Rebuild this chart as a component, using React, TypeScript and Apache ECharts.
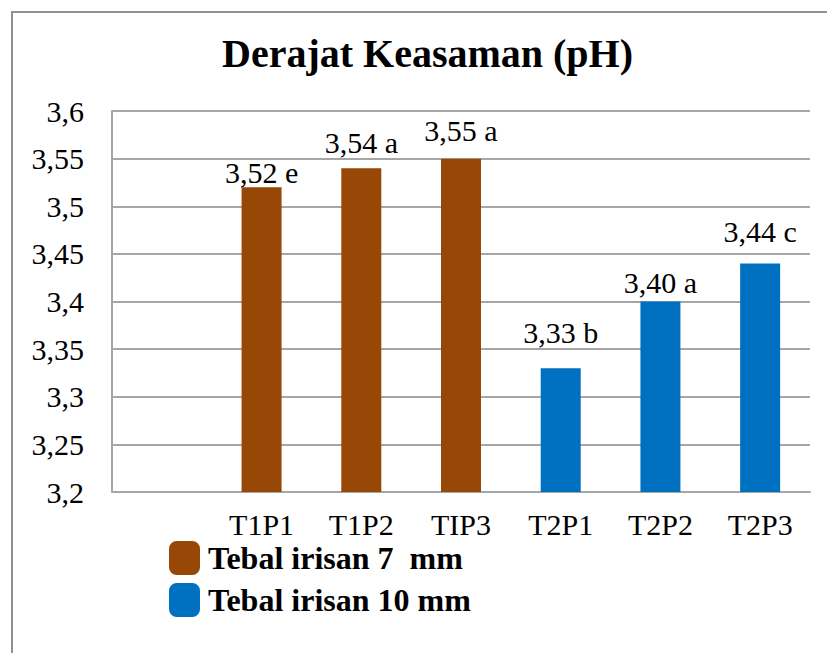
import React, { useEffect, useRef } from "react";
import * as echarts from "echarts";

const categories = ["", "T1P1", "T1P2", "TIP3", "T2P1", "T2P2", "T2P3"];
const seriesNames = ["Tebal irisan 7  mm", "Tebal irisan 10 mm"];
const values7mm: (number | null)[] = [null, 3.52, 3.54, 3.55, null, null, null];
const values10mm: (number | null)[] = [null, null, null, null, 3.33, 3.4, 3.44];
const letters7mm = ["", "e", "a", "a", "", "", ""];
const letters10mm = ["", "", "", "", "b", "a", "c"];
const yMin = 3.2;
const yMax = 3.6;
const yStep = 0.05;

// label lift above each bar (pixels), as placed in the original
const labelLift7 = [0, 0, 11, 13, 0, 0, 0];
const labelLift10 = [0, 0, 0, 0, 21, 4, 17];

const FONT = "Liberation Serif";

export default function App() {
  const ref = useRef<HTMLDivElement>(null);
  useEffect(() => {
    if (!ref.current) return;
    const chart = echarts.init(ref.current, null, { renderer: "svg" });
    const gray = "#a6a6a6";
    const labelFor = (letters: string[]) => (p: any) =>
      `${Number(p.value).toFixed(2).replace(".", ",")} ${letters[p.dataIndex]}`;
    const toData = (vals: (number | null)[], lift: number[]) =>
      vals.map((v, i) => (v == null ? "-" : { value: v, label: { distance: lift[i] } }));
    chart.setOption({
      animation: false,
      backgroundColor: "#ffffff",
      textStyle: { fontFamily: FONT },
      title: {
        text: "Derajat Keasaman (pH)",
        left: 222,
        top: 33,
        padding: 0,
        textStyle: { fontFamily: FONT, fontWeight: "bold", fontSize: 40, color: "#000" },
      },
      graphic: [
        {
          type: "rect",
          shape: { x: 12, y: 12, width: 900, height: 700 },
          style: { fill: "none", stroke: "#909090", lineWidth: 2 },
          silent: true,
        },
      ],
      legend: {
        orient: "vertical",
        left: 169,
        top: 541,
        padding: 0,
        itemWidth: 31,
        itemHeight: 34,
        itemGap: 8,
        icon: "roundRect",
        textStyle: {
          fontFamily: FONT,
          fontWeight: "bold",
          fontSize: 32,
          lineHeight: 26,
          color: "#000",
          padding: [5, 0, 0, 3],
        },
        data: seriesNames,
      },
      grid: { left: 112, right: 17, top: 111, bottom: 161 },
      xAxis: {
        type: "category",
        data: categories,
        axisLine: { lineStyle: { color: gray, width: 2 } },
        axisTick: { show: false },
        axisLabel: { fontFamily: FONT, fontSize: 30, lineHeight: 24, color: "#000", margin: 20, interval: 0 },
      },
      yAxis: {
        type: "value",
        min: yMin,
        max: yMax,
        interval: yStep,
        axisLine: { show: true, lineStyle: { color: gray, width: 2 } },
        axisTick: { show: false },
        splitLine: { lineStyle: { color: gray, width: 2 } },
        axisLabel: {
          fontFamily: FONT,
          fontSize: 30,
          color: "#000",
          margin: 28,
          formatter: (v: number) => String(Math.round(v * 100) / 100).replace(".", ","),
        },
      },
      series: [
        {
          name: seriesNames[0],
          type: "bar",
          stack: "all",
          barWidth: 40,
          data: toData(values7mm, labelLift7),
          itemStyle: { color: "#974706" },
          label: {
            show: true,
            position: "top",
            fontFamily: FONT,
            fontSize: 30,
            color: "#000",
            formatter: labelFor(letters7mm),
          },
        },
        {
          name: seriesNames[1],
          type: "bar",
          stack: "all",
          barWidth: 40,
          data: toData(values10mm, labelLift10),
          itemStyle: { color: "#0070c0" },
          label: {
            show: true,
            position: "top",
            fontFamily: FONT,
            fontSize: 30,
            color: "#000",
            formatter: labelFor(letters10mm),
          },
        },
      ],
    });
    return () => chart.dispose();
  }, []);
  return (
    <div
      ref={ref}
      style={{ position: "absolute", left: 0, top: 0, width: 827, height: 653 }}
    />
  );
}
